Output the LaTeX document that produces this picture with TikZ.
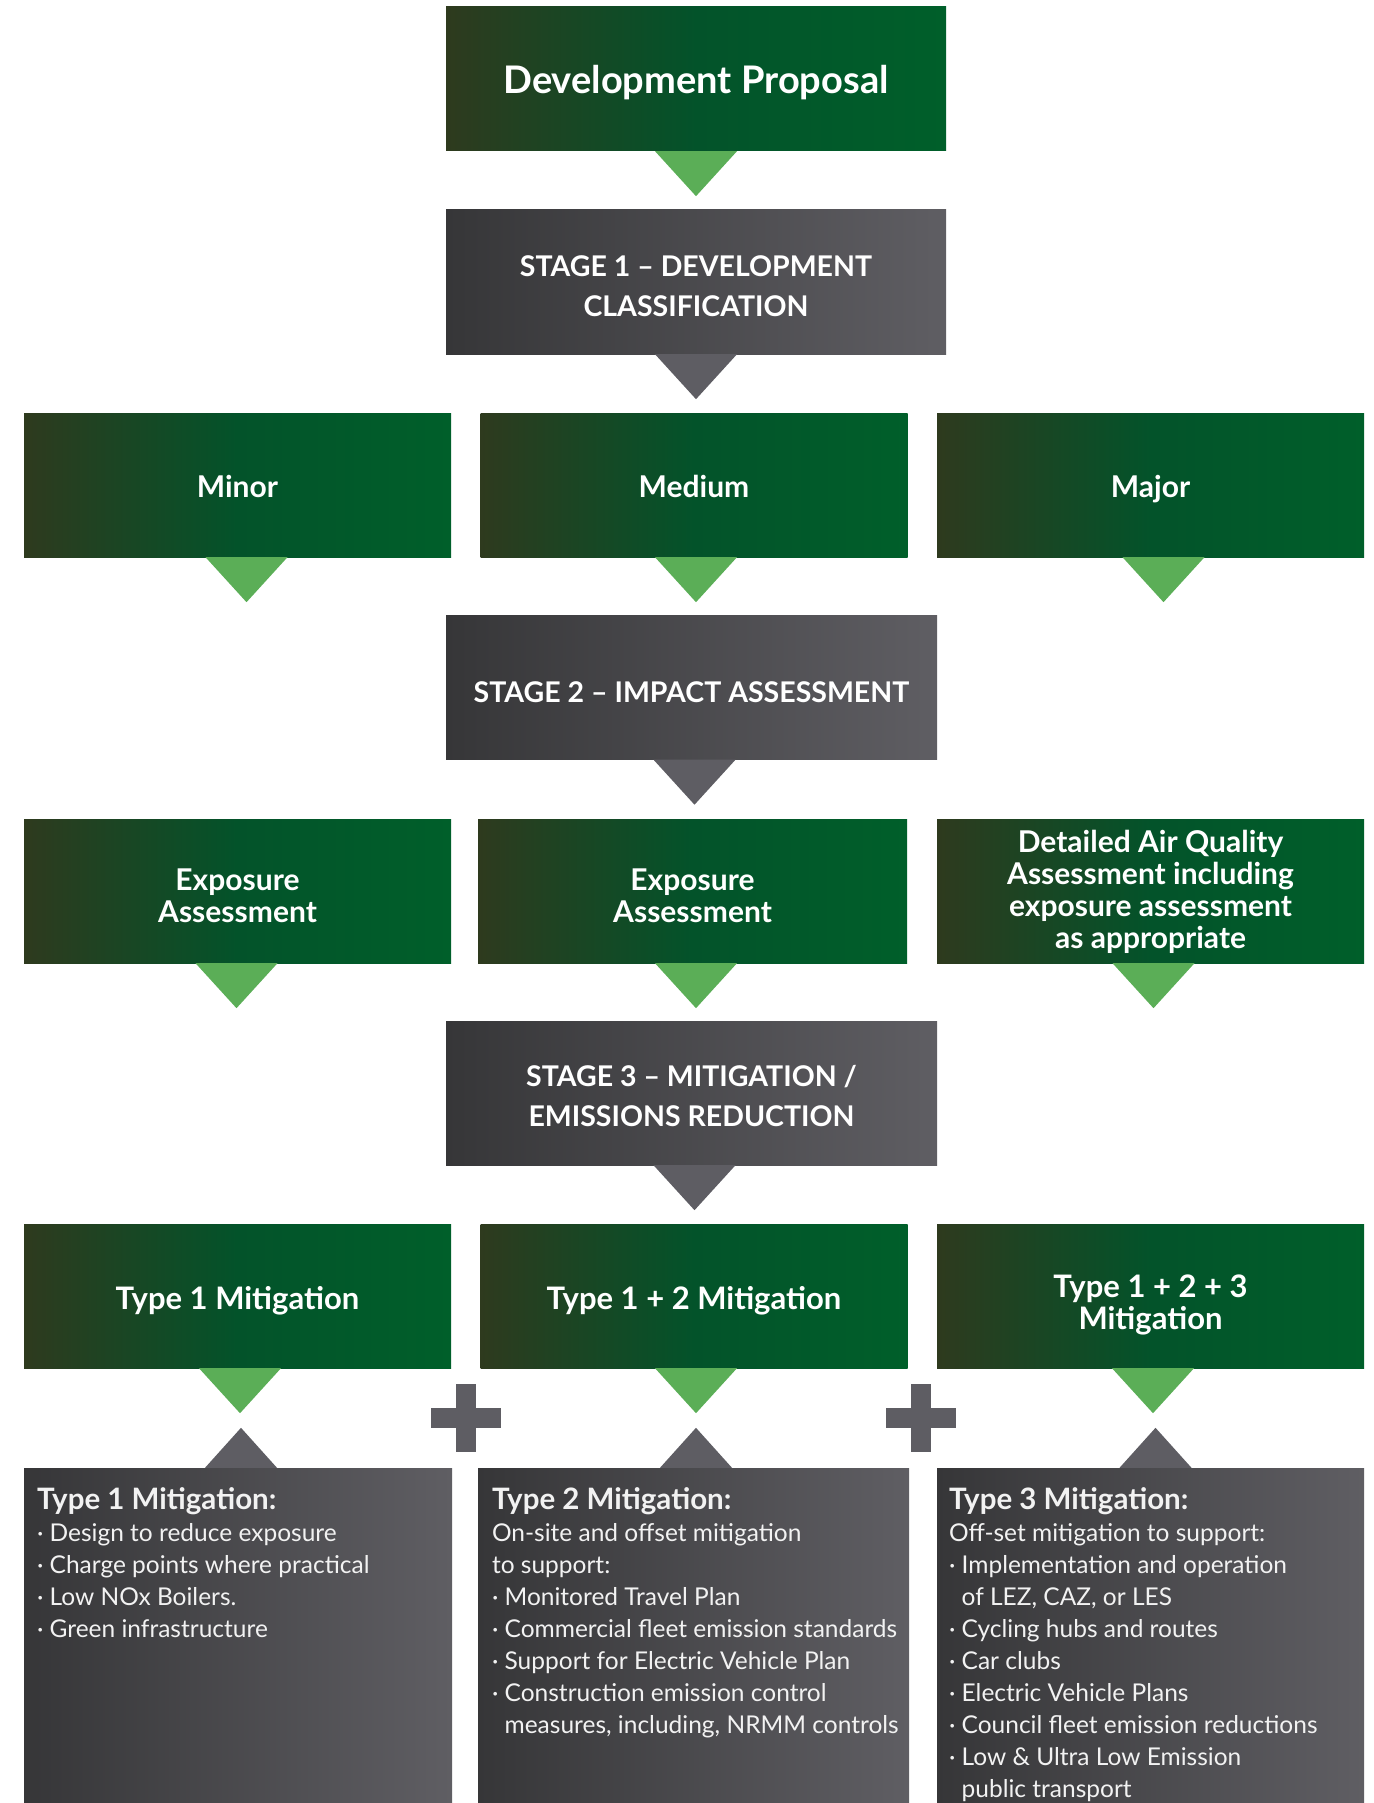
\documentclass[tikz,border=0pt]{standalone}
\usepackage{fontspec}
\setmainfont{Lato}
\usetikzlibrary{calc}
\definecolor{gL}{HTML}{2E3A1E}
\definecolor{gM}{HTML}{03532A}
\definecolor{gR}{HTML}{005F2A}
\definecolor{kL}{HTML}{363638}
\definecolor{kR}{HTML}{5F5E63}
\definecolor{gtricol}{HTML}{5BAE57}
\definecolor{ktricol}{HTML}{5E5D63}
\definecolor{txtcol}{HTML}{F2F2F2}
\newcommand\dtri[3]{\fill[#1] ($(#2.south)+(#3-41,0)$) -- ($(#2.south)+(#3+41,0)$) -- ($(#2.south)+(#3,45)$) -- cycle;}
\newcommand\utri[2]{\fill[ktri] ($(#1.north)+(#2-36,0)$) -- ($(#1.north)+(#2+36,0)$) -- ($(#1.north)+(#2,-40)$) -- cycle;}
\begin{document}
\begin{tikzpicture}[x=1pt,y=-1pt,
  gbox/.style={rectangle, inner sep=0, minimum height=144pt, left color=gL, right color=gR, middle color=gM},
  kbox/.style={rectangle, inner sep=0, minimum height=144pt, left color=kL, right color=kR},
  gtxt/.style={inner sep=0, text=white, align=center, font=\bfseries\fontsize{30}{32}\selectfont},
  ktxt/.style={inner sep=0, text=white, align=center, font=\bfseries\fontsize{28.5}{40}\selectfont},
  bbox/.style={rectangle, inner sep=0, minimum height=335pt, left color=kL, right color=kR},
  btext/.style={inner sep=0, anchor=base west, text=txtcol},
  gtri/.style={fill=gtricol},
  ktri/.style={fill=ktricol},
  plusbar/.style={fill=ktricol}]
\useasboundingbox (0,0) rectangle (1373,1803);
% boxes
\node[gbox, minimum width=500pt] (dev) at (696,79) {};
\node[kbox, minimum width=500pt] (st1) at (696,282) {};
\node[gbox, minimum width=427pt] (minor) at (237.5,485) {};
\node[gbox, minimum width=427pt] (medium) at (694,485) {};
\node[gbox, minimum width=427pt] (major) at (1150.5,485) {};
\node[kbox, minimum width=491pt] (st2) at (691.5,687.5) {};
\node[gbox, minimum width=427pt] (exp1) at (237.5,891) {};
\node[gbox, minimum width=429pt] (exp2) at (692.5,891) {};
\node[gbox, minimum width=427pt] (daq) at (1150.5,891) {};
\node[kbox, minimum width=491pt] (st3) at (691.5,1093) {};
\node[gbox, minimum width=427pt] (m1) at (237.5,1296) {};
\node[gbox, minimum width=427pt] (m2) at (694,1296) {};
\node[gbox, minimum width=427pt] (m3) at (1150.5,1296) {};
\node[bbox, minimum width=428pt] (b1) at (238,1635.5) {};
\node[bbox, minimum width=431pt] (b2) at (693.5,1635.5) {};
\node[bbox, minimum width=427pt] (b3) at (1150.5,1635.5) {};
% box texts
\node[gtxt, font=\bfseries\fontsize{38}{40}\selectfont] (dev-t) at ($(dev)+(0,3.5)$) {Development Proposal};
\node[ktxt] (st1-t) at ($(st1)+(0,4)$) {STAGE 1 -- DEVELOPMENT\\CLASSIFICATION};
\node[gtxt] (minor-t) at ($(minor)+(0,1)$) {Minor};
\node[gtxt] (medium-t) at ($(medium)+(0,1)$) {Medium};
\node[gtxt] (major-t) at ($(major)+(0,4.5)$) {Major};
\node[ktxt] (st2-t) at ($(st2)+(0,5)$) {STAGE 2 -- IMPACT ASSESSMENT};
\node[gtxt] (exp1-t) at ($(exp1)+(0,5)$) {Exposure\\Assessment};
\node[gtxt] (exp2-t) at ($(exp2)+(0,5)$) {Exposure\\Assessment};
\node[gtxt] (daq-t) at ($(daq)+(0,1)$) {Detailed Air Quality\\Assessment including\\exposure assessment\\as appropriate};
\node[ktxt] (st3-t) at ($(st3)+(0,3.5)$) {STAGE 3 -- MITIGATION /\\EMISSIONS REDUCTION};
\node[gtxt, font=\bfseries\fontsize{31}{32}\selectfont] (m1-t) at ($(m1)+(0,4.5)$) {Type 1 Mitigation};
\node[gtxt, font=\bfseries\fontsize{31}{32}\selectfont] (m2-t) at ($(m2)+(0,4.5)$) {Type 1 + 2 Mitigation};
\node[gtxt, font=\bfseries\fontsize{31}{32}\selectfont] (m3-t) at ($(m3)+(0,9)$) {Type 1 + 2 + 3\\Mitigation};
% connectors (triangles)
\dtri{gtri}{dev}{0}
\dtri{ktri}{st1}{0}
\dtri{gtri}{minor}{9}
\dtri{gtri}{medium}{2}
\dtri{gtri}{major}{13}
\dtri{ktri}{st2}{3}
\dtri{gtri}{exp1}{-1}
\dtri{gtri}{exp2}{3.5}
\dtri{gtri}{daq}{3}
\dtri{ktri}{st3}{3}
\dtri{gtri}{m1}{2.5}
\dtri{gtri}{m2}{2}
\dtri{gtri}{m3}{2.5}
\utri{b1}{3}
\utri{b2}{2.5}
\utri{b3}{5}
% plus signs
\coordinate (p1) at (466,1418);
\coordinate (p2) at (921,1418);
\foreach \p in {p1,p2}{
  \fill[plusbar] ($(\p)+(-10,-34)$) rectangle ($(\p)+(10,34)$);
  \fill[plusbar] ($(\p)+(-35,-10)$) rectangle ($(\p)+(35,10)$);
}
% bottom texts
\node[btext] (t1) at ($(b1.north west)+(13,42)$) {\parbox[t]{410pt}{\raggedright\fontsize{24.5}{32}\selectfont
{\bfseries\fontsize{29.5}{32}\selectfont Type 1 Mitigation:}\\
· Design to reduce exposure\\
· Charge points where practical\\
· Low NOx Boilers.\\
· Green infrastructure}};
\node[btext] (t2) at ($(b2.north west)+(14,42)$) {\parbox[t]{415pt}{\raggedright\fontsize{24.5}{32}\selectfont
{\bfseries\fontsize{29.5}{32}\selectfont Type 2 Mitigation:}\\
On-site and offset mitigation\\
to support:\\
· Monitored Travel Plan\\
· Commercial fleet emission standards\\
· Support for Electric Vehicle Plan\\
· Construction emission control\\
\hphantom{· }measures, including, NRMM controls}};
\node[btext] (t3) at ($(b3.north west)+(12,42)$) {\parbox[t]{412pt}{\raggedright\fontsize{24.5}{32}\selectfont
{\bfseries\fontsize{29.5}{32}\selectfont Type 3 Mitigation:}\\
Off-set mitigation to support:\\
· Implementation and operation\\
\hphantom{· }of LEZ, CAZ, or LES\\
· Cycling hubs and routes\\
· Car clubs\\
· Electric Vehicle Plans\\
· Council fleet emission reductions\\
· Low \& Ultra Low Emission\\
\hphantom{· }public transport}};
\end{tikzpicture}
\end{document}
